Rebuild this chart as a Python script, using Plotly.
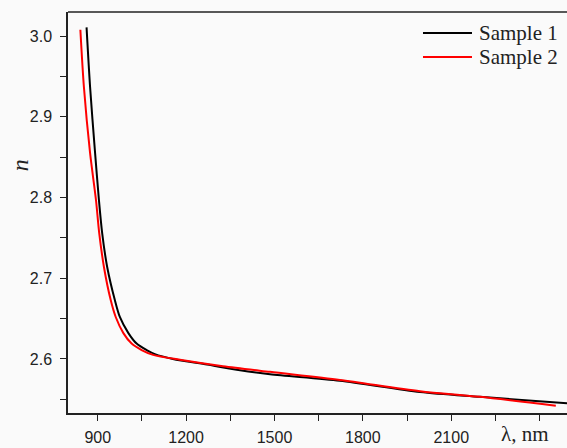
import plotly.graph_objects as go

# Sample 1 (black)
wl1 = [862, 874, 891, 904, 915, 932, 958, 975, 1004, 1032, 1066, 1094, 1155, 1271, 1383, 1485, 1722, 1994, 2197, 2493]
n1 = [3.011, 2.937, 2.855, 2.797, 2.756, 2.714, 2.673, 2.652, 2.632, 2.619, 2.611, 2.606, 2.600, 2.593, 2.586, 2.581, 2.573, 2.559, 2.553, 2.545]

# Sample 2 (red)
wl2 = [841, 853, 874, 894, 905, 921, 944, 961, 987, 1015, 1049, 1088, 1179, 1325, 1485, 1722, 1994, 2197, 2455]
n2 = [3.008, 2.937, 2.855, 2.797, 2.756, 2.714, 2.673, 2.652, 2.632, 2.619, 2.611, 2.605, 2.599, 2.591, 2.584, 2.574, 2.560, 2.553, 2.542]

series_names = ["Sample 1", "Sample 2"]
series_colors = ["black", "#ff0000"]

x_ticks = [900, 1050, 1200, 1350, 1500, 1650, 1800, 1950, 2100, 2250, 2400]
x_labels = ["900", "", "1200", "", "1500", "", "1800", "", "2100", "", ""]
y_ticks = [2.55, 2.60, 2.65, 2.70, 2.75, 2.80, 2.85, 2.90, 2.95, 3.00]
y_labels = ["", "2.6", "", "2.7", "", "2.8", "", "2.9", "", "3.0"]

fig = go.Figure()
for wl, n, name, col in zip([wl1, wl2], [n1, n2], series_names, series_colors):
    fig.add_trace(go.Scatter(x=wl, y=n, mode="lines", name=name,
                             line=dict(color=col, width=2, shape="spline", smoothing=0.8)))

fig.update_layout(
    width=567, height=448,
    margin=dict(l=68, r=0, t=12, b=35),
    paper_bgcolor="#fafafa", plot_bgcolor="#fafafa",
    font=dict(family="Liberation Sans, Arial", size=16, color="#222"),
    showlegend=False,
)
fig.update_xaxes(range=[799, 2493], tickvals=x_ticks, ticktext=x_labels,
                 ticks="outside", ticklen=6, tickwidth=1.2, tickcolor="#222",
                 showline=True, linecolor="#222", linewidth=1.5, mirror=False,
                 showgrid=False, zeroline=False, ticklabelstandoff=3)
fig.update_yaxes(range=[2.533, 3.030], tickvals=y_ticks, ticktext=y_labels,
                 ticks="outside", ticklen=6, tickwidth=1.2, tickcolor="#222",
                 showline=True, linecolor="#222", linewidth=1.5,
                 showgrid=False, zeroline=False, ticklabelstandoff=5)
# top frame line
fig.add_shape(type="line", xref="paper", yref="paper", x0=0, x1=1, y0=1, y1=1,
              line=dict(color="#222", width=1.5))

# legend (drawn as key lines + labels)
leg_y = [0.9476, 0.8878]
for yy, name, col in zip(leg_y, series_names, series_colors):
    fig.add_shape(type="line", xref="paper", yref="paper", x0=0.7114, x1=0.8096,
                  y0=yy, y1=yy, line=dict(color=col, width=2))
    fig.add_annotation(text=name, xref="paper", yref="paper", x=0.8196, y=yy,
                       xanchor="left", yanchor="middle", showarrow=False,
                       font=dict(family="Liberation Serif, Times New Roman", size=21, color="#222"))

fig.add_annotation(text="<i>n</i>", xref="paper", yref="paper", x=-0.096, y=0.618,
                   xanchor="center", yanchor="middle",
                   showarrow=False, textangle=-90,
                   font=dict(family="Liberation Serif, Times New Roman", size=24, color="#222"))
fig.add_annotation(text="λ, nm", xref="paper", yref="paper", x=0.916, y=-0.052,
                   xanchor="center", yanchor="middle", showarrow=False,
                   font=dict(family="Liberation Serif, Times New Roman", size=21, color="#222"))

fig.write_html("out.html", config={"displayModeBar": False},
               post_script="document.body.style.margin='0';document.body.style.overflow='hidden';")
